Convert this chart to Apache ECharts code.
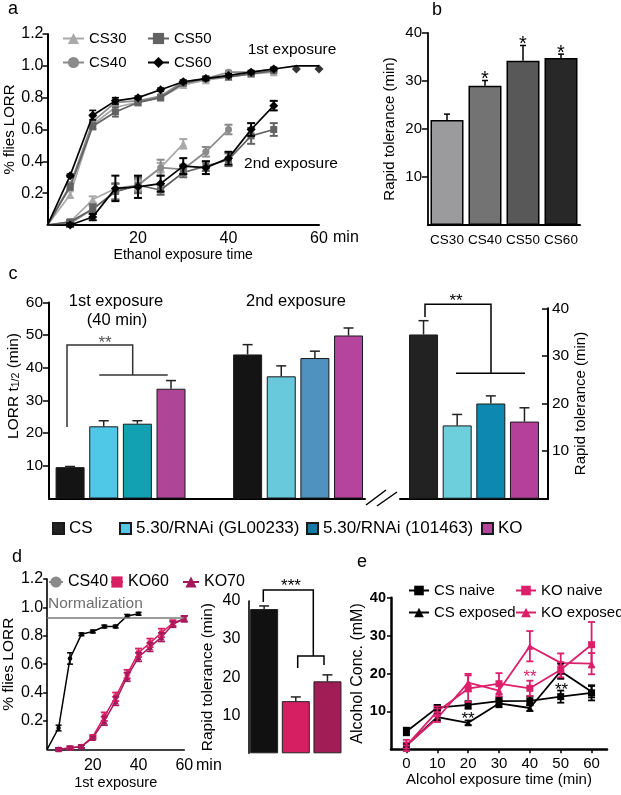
<!DOCTYPE html>
<html><head><meta charset="utf-8">
<script src="https://cdn.jsdelivr.net/npm/echarts@6/dist/echarts.min.js"></script>
<style>html,body{margin:0;padding:0;background:#fff}#c{width:621px;height:795px}</style>
</head><body><div id="c"></div>
<script>
// ================= DATA =================
// Panel a : % flies LORR vs ethanol exposure time (min)
const timeA = [0,5,10,15,20,25,30,35,40,45,50,55,60];
const cs30First = [0,0.19,0.63,0.74,0.77,0.80,0.88,0.91,0.93,0.95,0.96];
const cs40First = [0,0.25,0.65,0.77,0.78,0.81,0.90,0.92,0.96,0.96,0.98];
const cs50First = [0,0.24,0.62,0.71,0.77,0.80,0.89,0.92,0.93,0.95,0.97];
const cs60First = [0,0.31,0.69,0.78,0.80,0.85,0.90,0.92,0.94,0.96,0.98];
const cs30FirstErr = [0,0.02,0.03,0.02,0.02,0.01,0.01,0.01,0.01,0.01,0.01];
const cs40FirstErr = [0,0.02,0.03,0.02,0.01,0.01,0.01,0.01,0.01,0.01,0.01];
const cs50FirstErr = [0,0.02,0.02,0.03,0.01,0.01,0.01,0.01,0.01,0.01,0.01];
const cs60FirstErr = [0,0.01,0.03,0.02,0.01,0.01,0.01,0.01,0.01,0.01,0.01];
const cs60LateTimes = [55,60];
const cs60Late = [0.98,0.98];
const cs60FitTimes = [50,55,60];
const cs60Fit = [0.98,1.0,1.0];
const cs30Second = [0,0.02,0.16,0.23,0.25,0.36,0.51];
const cs40Second = [0,0.01,0.10,0.21,0.25,0.36,0.35,0.46,0.60];
const cs50Second = [0,0.02,0.10,0.21,0.25,0.22,0.33,0.37,0.41,0.56,0.60];
const cs60Second = [0,0.00,0.05,0.23,0.24,0.26,0.37,0.36,0.42,0.60,0.75];
const cs30SecondErr = [0,0.01,0.02,0.03,0.03,0.03,0.03];
const cs40SecondErr = [0,0.01,0.02,0.05,0.04,0.05,0.03,0.03,0.03];
const cs50SecondErr = [0,0.01,0.03,0.05,0.05,0.03,0.03,0.03,0.04,0.05,0.04];
const cs60SecondErr = [0,0.01,0.02,0.08,0.07,0.05,0.05,0.04,0.04,0.04,0.03];

// Panel b : rapid tolerance (min)
const bCats = ['CS30','CS40','CS50','CS60'];
const bVals = [21.9,29.0,34.2,34.8];
const bErr = [1.2,1.1,3.2,0.8];
const bSig = ['','*','*','*'];

// Panel c
const cGenotypes = ['CS','5.30/RNAi (GL00233)','5.30/RNAi (101463)','KO'];
const cFirst = [9.6,22.1,22.9,33.6];
const cFirstErr = [0.2,1.7,0.9,2.5];
const cSecond = [44.1,37.4,43.0,49.9];
const cSecondErr = [3.0,3.2,2.1,2.3];
const cRapid = [34.5,15.4,20.0,16.2];
const cRapidErr = [2.9,2.3,1.6,2.9];

// Panel d
const timeD = [0,5,10,15,20,25,30,35,40,45,50,55,60];
const dCS40 = [0,0.15,0.64,0.81,0.83,0.865,0.865,0.94,0.955];
const dCS40Err = [0,0.02,0.04,0.01,0.01,0.01,0.01,0.01,0.01];
const timeKO = [5,10,15,20,25,30,35,40,45,50,55,60];
const dKO60 = [0.0,0.01,0.02,0.09,0.23,0.37,0.53,0.68,0.75,0.82,0.89,0.92];
const dKO70 = [0.0,0.01,0.02,0.08,0.20,0.34,0.51,0.65,0.72,0.79,0.88,0.92];
const dKO60Err = [0.01,0.01,0.01,0.01,0.03,0.03,0.03,0.03,0.03,0.03,0.02,0.02];
const dKO70Err = [0.01,0.01,0.01,0.01,0.03,0.03,0.03,0.03,0.03,0.03,0.02,0.02];
const normLevel = 0.925;
const dBarCats = ['CS40','KO60','KO70'];
const dBarVals = [37.9,13.7,18.9];
const dBarErr = [0.8,1.1,1.7];

// Panel e : alcohol concentration (mM)
const eTimes = ['0','10','20','30','40','50','60'];
const eCSNaive = [4.7,11.0,11.7,12.7,12.8,13.9,14.9];
const eCSNaiveErr = [1.0,0.7,1.0,1.0,1.2,1.6,2.0];
const eCSExposed = [1.0,8.5,7.0,12.1,10.9,20.6,15.2];
const eCSExposedErr = [0.5,0.8,0.6,1.0,0.8,2.0,1.5];
const eKONaive = [1.0,10.0,16.0,17.3,16.1,21.0,27.6];
const eKONaiveErr = [1.5,1.3,3.5,2.8,2.0,2.0,6.0];
const eKOExposed = [1.0,8.2,17.6,15.5,27.2,22.8,22.6];
const eKOExposedErr = [0.8,1.0,2.3,1.5,4.0,2.5,2.8];

// ================= STYLE =================
const FF = '"Liberation Sans", Arial, Helvetica, sans-serif';
const grey30 = '#a9a9a9', grey40 = '#8a8a8a', grey50 = '#626262', black = '#000000';
const bColors = ['#9b9b9d','#737373','#585858','#282828'];
const cGroupColors = [
  ['#141414','#4fc7e7','#12a1b2','#ae4597'],
  ['#141414','#68c9dd','#4f92c0','#b5449c'],
  ['#222222','#6dcfdc','#0d88b0','#b5409a']
];
const cLegendColors = ['#222222','#55c6e3','#1778a8','#b5449b'];
const pink = '#dc1f6b', ko60c = '#d81e62', ko70c = '#a3195b';
const dBarColors = ['#111111','#d41f63','#a11d55'];

function lineS(name, xi, yi, xs, ys, color, symbol, size, extra) {
  const data = ys.map((v, k) => xs ? [xs[k], v] : v);
  if (extra && extra.noFirst) data[0] = {value: data[0], symbol: 'none'};
  const s = {
    type: 'line', name, xAxisIndex: xi, yAxisIndex: yi, data,
    symbol, symbolSize: size, showSymbol: true, showAllSymbol: true,
    lineStyle: {color, width: (extra && extra.lw) || 1.7},
    itemStyle: {color}, emphasis: {disabled: true}, z: (extra && extra.z) || 3
  };
  if (extra && extra.markLine) s.markLine = extra.markLine;
  return s;
}
function errS(xi, yi, xs, ys, es, color, opt) {
  opt = opt || {};
  return {
    type: 'custom', xAxisIndex: xi, yAxisIndex: yi, silent: true, z: opt.z || 4,
    data: ys.map((v, k) => [xs ? xs[k] : k, v, es[k]]),
    encode: {x: 0, y: 1},
    renderItem(params, api) {
      const x = api.value(0), y = api.value(1), e = api.value(2);
      const top = api.coord([x, y + e]);
      const bot = api.coord([x, opt.upOnly ? y : y - e]);
      const cx = top[0] + (opt.offset || 0);
      const lw = opt.lw || 1.5, cap = opt.cap || 3.5;
      const st = {stroke: color, lineWidth: lw};
      const ch = [];
      if (e > 0) {
        ch.push({type: 'line', shape: {x1: cx, y1: top[1], x2: cx, y2: bot[1]}, style: st});
        ch.push({type: 'line', shape: {x1: cx - cap, y1: top[1], x2: cx + cap, y2: top[1]}, style: st});
        if (!opt.upOnly) ch.push({type: 'line', shape: {x1: cx - cap, y1: bot[1], x2: cx + cap, y2: bot[1]}, style: st});
      }
      if (opt.sig && opt.sig[params.dataIndex]) {
        ch.push({type: 'text', style: {text: opt.sig[params.dataIndex], x: cx, y: top[1] - 1,
          align: 'center', verticalAlign: 'middle', font: '20px ' + FF, fill: '#000'}});
      }
      return {type: 'group', children: ch};
    }
  };
}
function lab(size, extra) { return Object.assign({color: '#000', fontFamily: FF, fontSize: size}, extra || {}); }
const axLine = (w) => ({show: true, onZero: false, lineStyle: {color: '#000', width: w || 2}});
const oneDec = (v) => v.toFixed(1);

// ================= AXES =================
const xAxes = [
  {gridIndex: 0, type: 'value', min: 0, max: 60, interval: 20, axisLine: axLine(2), axisTick: {show: false},
   axisLabel: lab(16, {showMinLabel: false, margin: 6}), splitLine: {show: false},
   name: 'Ethanol exposure time', nameLocation: 'middle', nameGap: 23, nameTextStyle: lab(14)},
  {gridIndex: 1, type: 'category', data: bCats, axisLine: axLine(2), axisTick: {show: false},
   axisLabel: lab(13.5, {margin: 8, interval: 0})},
  {gridIndex: 2, type: 'value', min: -0.403, max: 1.377, axisLine: axLine(2), axisTick: {show: false},
   axisLabel: {show: false}, splitLine: {show: false}},
  {gridIndex: 3, type: 'category', data: ['Rapid tolerance'], axisLine: axLine(2), axisTick: {show: false},
   axisLabel: {show: false}},
  {gridIndex: 4, type: 'value', min: 0, max: 60, interval: 20, axisLine: axLine(1.6), axisTick: {show: false},
   axisLabel: lab(16, {showMinLabel: false, margin: 8}), splitLine: {show: false},
   name: '1st exposure', nameLocation: 'middle', nameGap: 26, nameTextStyle: lab(14.5)},
  {gridIndex: 5, type: 'category', data: dBarCats, axisLine: {show: false}, axisTick: {show: false},
   axisLabel: {show: false}},
  {gridIndex: 6, type: 'category', data: eTimes, boundaryGap: true, axisLine: axLine(2.5),
   axisTick: {show: true, alignWithLabel: true, length: 4, lineStyle: {color: '#000', width: 1.5}},
   axisLabel: lab(15, {margin: 7, interval: 0}),
   name: 'Alcohol exposure time (min)', nameLocation: 'middle', nameGap: 22, nameTextStyle: lab(15)}
];
const yAxes = [
  {gridIndex: 0, type: 'value', min: 0, max: 1.2, interval: 0.2, axisLine: axLine(2),
   axisTick: {show: true, length: 5, lineStyle: {width: 1.5}}, splitLine: {show: false},
   axisLabel: lab(16, {showMinLabel: false, margin: 4, formatter: oneDec}),
   name: '% flies LORR', nameLocation: 'middle', nameGap: 28, nameRotate: 90, nameTextStyle: lab(15)},
  {gridIndex: 1, type: 'value', min: 0, max: 40, interval: 10, axisLine: axLine(1.8),
   axisTick: {show: true, length: 6, lineStyle: {width: 1.5}}, splitLine: {show: false},
   axisLabel: lab(15, {showMinLabel: false, margin: 6}),
   name: 'Rapid tolerance (min)', nameLocation: 'middle', nameGap: 31, nameRotate: 90, nameTextStyle: lab(15)},
  {gridIndex: 2, type: 'value', min: 0, max: 60, interval: 10, axisLine: axLine(2),
   axisTick: {show: true, length: 6, lineStyle: {width: 1.5}}, splitLine: {show: false},
   axisLabel: lab(15.5, {showMinLabel: false, margin: 6})},
  {gridIndex: 3, type: 'value', position: 'right', min: 0, max: 40, interval: 10, axisLine: axLine(2),
   axisTick: {show: true, inside: true, length: 6, lineStyle: {width: 1.5}}, splitLine: {show: false},
   axisLabel: lab(15.5, {showMinLabel: false, margin: 4}),
   name: 'Rapid tolerance (min)', nameLocation: 'middle', nameGap: 25, nameRotate: 90, nameTextStyle: lab(15)},
  {gridIndex: 4, type: 'value', min: 0, max: 1.2, interval: 0.2, axisLine: axLine(1.6),
   axisTick: {show: true, length: 4, lineStyle: {width: 1.5}}, splitLine: {show: false},
   axisLabel: lab(16, {showMinLabel: false, margin: 4, formatter: oneDec}),
   name: '% flies LORR', nameLocation: 'middle', nameGap: 26, nameRotate: 90, nameTextStyle: lab(15.5)},
  {gridIndex: 5, type: 'value', min: 0, max: 40, interval: 10, axisLine: axLine(1.6),
   axisTick: {show: false}, splitLine: {show: false},
   axisLabel: lab(16, {showMinLabel: false, margin: 8}),
   name: 'Rapid tolerance (min)', nameLocation: 'middle', nameGap: 33, nameRotate: 90, nameTextStyle: lab(15.5)},
  {gridIndex: 6, type: 'value', min: 0, max: 40, interval: 10, axisLine: axLine(2.5),
   axisTick: {show: true, length: 4, lineStyle: {width: 1.5}}, splitLine: {show: false},
   axisLabel: lab(14.5, {showMinLabel: false, margin: 5, fontWeight: 'bold'}),
   name: 'Alcohol Conc. (mM)', nameLocation: 'middle', nameGap: 24, nameRotate: 90, nameTextStyle: lab(16)}
];

// ================= SERIES =================
const series = [];
// Panel a
[[ 'CS30', cs30First, cs30FirstErr, cs30Second, cs30SecondErr, grey30, 'triangle', 8],
 [ 'CS40', cs40First, cs40FirstErr, cs40Second, cs40SecondErr, grey40, 'circle', 7],
 [ 'CS50', cs50First, cs50FirstErr, cs50Second, cs50SecondErr, grey50, 'rect', 7],
 [ 'CS60', cs60First, cs60FirstErr, cs60Second, cs60SecondErr, black, 'diamond', 9]
].forEach((r, k) => {
  series.push(lineS(r[0], 0, 0, timeA, r[1], r[5], r[6], r[7], {noFirst: true, z: 3 + k}));
  series.push(lineS(r[0], 0, 0, timeA, r[3], r[5], r[6], r[7], {noFirst: true, z: 3 + k}));
  series.push(errS(0, 0, timeA, r[1], r[2], r[5], {cap: 3.5, lw: 1.6, z: 3 + k}));
  series.push(errS(0, 0, timeA, r[3], r[4], r[5], {cap: 4, lw: 2, z: 3 + k}));
});
series.push(lineS('CS60 fit', 0, 0, cs60FitTimes, cs60Fit, black, 'none', 0, {z: 7}));
series.push({type: 'scatter', name: 'CS60 late', xAxisIndex: 0, yAxisIndex: 0,
  data: cs60Late.map((v, k) => [cs60LateTimes[k], v]), symbol: 'diamond', symbolSize: 9,
  itemStyle: {color: black}, z: 7});

// Panel b
series.push({type: 'bar', name: 'rapid b', xAxisIndex: 1, yAxisIndex: 1, barWidth: 33,
  data: bVals.map((v, k) => ({value: v, itemStyle: {color: bColors[k]}})),
  itemStyle: {borderColor: '#000', borderWidth: 1.5}, z: 2});
series.push(errS(1, 1, null, bVals, bErr, '#000', {upOnly: true, cap: 3, lw: 1.5, sig: bSig}));

// Panel c
const cStep = 29 * 1.16;
cGenotypes.forEach((g, i) => {
  series.push({type: 'bar', name: g, xAxisIndex: 2, yAxisIndex: 2, barWidth: 29, barGap: '16%',
    itemStyle: {color: cLegendColors[i], borderColor: '#1a1a1a', borderWidth: 1},
    data: [{value: [0, cFirst[i]], itemStyle: {color: cGroupColors[0][i]}},
           {value: [1, cSecond[i]], itemStyle: {color: cGroupColors[1][i]}}], z: 2});
  series.push(errS(2, 2, [0, 1], [cFirst[i], cSecond[i]], [cFirstErr[i], cSecondErr[i]], '#222',
    {upOnly: true, cap: 5, lw: 1.5, offset: (i - 1.5) * cStep}));
  series.push({type: 'bar', name: g, xAxisIndex: 3, yAxisIndex: 3, barWidth: 29, barGap: '16%',
    itemStyle: {color: cLegendColors[i], borderColor: '#1a1a1a', borderWidth: 1},
    data: [{value: cRapid[i], itemStyle: {color: cGroupColors[2][i]}}], z: 2});
  series.push(errS(3, 3, null, [cRapid[i]], [cRapidErr[i]], '#222',
    {upOnly: true, cap: 5, lw: 1.5, offset: (i - 1.5) * cStep}));
});

// Panel d
series.push(lineS('CS40', 4, 4, timeD, dCS40, black, 'circle', 4.5, {noFirst: true, lw: 1.5,
  markLine: {silent: true, symbol: 'none', label: {show: false},
    lineStyle: {color: '#7a7a7a', width: 1.5, type: 'solid'}, data: [{yAxis: normLevel}]}}));
series.push(errS(4, 4, timeD, dCS40, dCS40Err, black, {cap: 3, lw: 1.5}));
series.push(lineS('KO60', 4, 4, timeKO, dKO60, ko60c, 'rect', 5, {lw: 1.5}));
series.push(errS(4, 4, timeKO, dKO60, dKO60Err, ko60c, {cap: 3.5, lw: 1.8}));
series.push(lineS('KO70', 4, 4, timeKO, dKO70, ko70c, 'triangle', 6, {lw: 1.5}));
series.push(errS(4, 4, timeKO, dKO70, dKO70Err, ko70c, {cap: 3.5, lw: 1.8}));
series.push({type: 'bar', name: 'rapid d', xAxisIndex: 5, yAxisIndex: 5, barWidth: 28,
  data: dBarVals.map((v, k) => ({value: v, itemStyle: {color: dBarColors[k]}})),
  itemStyle: {borderColor: '#222', borderWidth: 1}, z: 2});
series.push(errS(5, 5, null, dBarVals, dBarErr, '#222', {upOnly: true, cap: 5, lw: 1.5}));

// Panel e
series.push(lineS('CS naive', 6, 6, null, eCSNaive, black, 'rect', 7, {lw: 1.8}));
series.push(errS(6, 6, null, eCSNaive, eCSNaiveErr, black, {cap: 3.5, lw: 1.8}));
series.push(lineS('CS exposed', 6, 6, null, eCSExposed, black, 'triangle', 7, {lw: 1.8}));
series.push(errS(6, 6, null, eCSExposed, eCSExposedErr, black, {cap: 3.5, lw: 1.8}));
series.push(lineS('KO naive', 6, 6, null, eKONaive, pink, 'rect', 7, {lw: 1.8}));
series.push(errS(6, 6, null, eKONaive, eKONaiveErr, pink, {cap: 3.5, lw: 1.8}));
series.push(lineS('KO exposed', 6, 6, null, eKOExposed, pink, 'triangle', 7, {lw: 1.8}));
series.push(errS(6, 6, null, eKOExposed, eKOExposedErr, pink, {cap: 3.5, lw: 1.8}));

// ================= LEGENDS =================
function leg(names, left, top, o) {
  return Object.assign({data: names, left, top, orient: 'vertical', padding: 0, itemWidth: 21,
    itemHeight: 14, itemGap: 9, selectedMode: false, textStyle: lab(15)}, o || {});
}
const legends = [
  leg(['CS30', 'CS40'], 62, 31),
  leg(['CS50', 'CS60'], 147, 31),
  leg([{name: 'CS', icon: 'rect'}], 52, 520, {itemWidth: 11, itemHeight: 11, textStyle: lab(17)}),
  leg([{name: '5.30/RNAi (GL00233)', icon: 'rect'}], 119, 520, {itemWidth: 11, itemHeight: 11, textStyle: lab(17)}),
  leg([{name: '5.30/RNAi (101463)', icon: 'rect'}], 306, 520, {itemWidth: 11, itemHeight: 11, textStyle: lab(17)}),
  leg([{name: 'KO', icon: 'rect'}], 481, 520, {itemWidth: 11, itemHeight: 11, textStyle: lab(17)}),
  leg(['CS40'], 48, 574, {itemWidth: 14, textStyle: lab(16)}),
  leg(['KO60'], 110, 574, {itemWidth: 12, textStyle: lab(16)}),
  leg(['KO70'], 182, 574, {itemWidth: 16, textStyle: lab(16)}),
  leg(['CS naive', 'CS exposed'], 408, 583, {itemWidth: 20, itemHeight: 12, itemGap: 7}),
  leg(['KO naive', 'KO exposed'], 515, 583, {itemWidth: 20, itemHeight: 12, itemGap: 7})
];

// ================= ANNOTATIONS =================
const T = (text, x, y, size, o) => Object.assign({type: 'text', x, y, silent: true,
  style: Object.assign({text, font: size + 'px ' + FF, fill: '#000', align: 'center', verticalAlign: 'middle'}, (o && o.style) || {})},
  o && o.rotation ? {rotation: o.rotation} : {});
const P = (pts, color, w) => ({type: 'polyline', silent: true, shape: {points: pts},
  style: {stroke: color || '#000', lineWidth: w || 1.5, fill: null}});
const graphics = [
  T('a', 13, 9, 18), T('b', 437, 10, 18), T('c', 13, 274, 18), T('d', 17, 557, 18), T('e', 362, 562, 18),
  T('1st exposure', 292, 50, 15.5), T('2nd exposure', 291, 164, 15.5),
  T('min', 333, 238, 16, {style: {align: 'left'}}),
  T('1st exposure', 116, 301, 16.5), T('(40 min)', 117, 320, 16.5), T('2nd exposure', 296, 301, 16.5),
  {type: 'text', x: 12, y: 386, rotation: Math.PI / 2, silent: true,
   style: {text: '{n|LORR t}{s|1/2}{n| (min)}', align: 'center', verticalAlign: 'middle',
     rich: {n: {fontSize: 15.5, fontFamily: FF, fill: '#000', lineHeight: 20, verticalAlign: 'bottom'},
            s: {fontSize: 10.5, fontFamily: FF, fill: '#000', lineHeight: 14, verticalAlign: 'bottom'}}}},
  P([[67, 427], [67, 345], [132.7, 345], [132.7, 375]], '#333'), P([[99.3, 375], [167.7, 375]], '#333'),
  T('**', 105, 343, 17, {style: {fill: '#555'}}),
  P([[425, 317], [425, 304.3], [491, 304.3], [491, 373.3]]), P([[456, 373.3], [525, 373.3]]),
  T('**', 456, 301, 17),
  P([[366, 505], [386, 490]], '#000', 1.5), P([[377, 506], [397, 492]], '#000', 1.5),
  T('Normalization', 48, 604, 15.5, {style: {align: 'left', fill: '#6f6f6f'}}),
  T('min', 196, 766, 16, {style: {align: 'left'}}),
  P([[263.3, 602], [263.3, 590], [313.3, 590], [313.3, 656]]),
  P([[297.7, 668], [297.7, 656], [324, 656], [324, 665]]),
  T('***', 291, 586, 17),
  T('**', 468, 719, 17), T('**', 530, 677.5, 17, {style: {fill: pink}}), T('**', 561.5, 690.5, 17)
];

const option = {
  animation: false,
  backgroundColor: '#fff',
  textStyle: {fontFamily: FF},
  grid: [
    {left: 47.5, top: 34, width: 271.5, height: 191},
    {left: 428, top: 33, width: 152, height: 192},
    {left: 49, top: 302.5, width: 316, height: 196},
    {left: 400, top: 308.3, width: 148, height: 190.4},
    {left: 42.7, top: 579, width: 141.6, height: 170.3},
    {left: 248.3, top: 601, width: 95, height: 152.3},
    {left: 391, top: 597.7, width: 216, height: 151.6}
  ],
  xAxis: xAxes, yAxis: yAxes, legend: legends, series, graphic: {elements: graphics}
};
const chart = echarts.init(document.getElementById('c'), null, {renderer: 'canvas', width: 621, height: 795});
chart.setOption(option);
</script></body></html>
